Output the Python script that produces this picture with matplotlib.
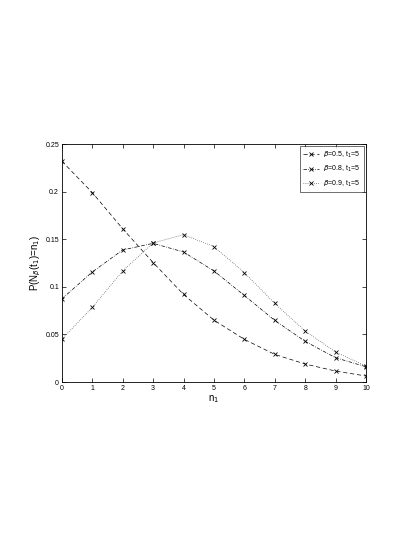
import numpy as np
import matplotlib
matplotlib.use("Agg")
import matplotlib.pyplot as plt

plt.rcParams['font.family'] = ['Liberation Sans', 'DejaVu Sans']

n1 = np.arange(0, 11)
p_b05 = [0.232, 0.199, 0.161, 0.1255, 0.092, 0.065, 0.0448, 0.029, 0.0189, 0.0115, 0.0063]
p_b08 = [0.0873, 0.1156, 0.1387, 0.1457, 0.1366, 0.1167, 0.0909, 0.0647, 0.0427, 0.0255, 0.016]
p_b09 = [0.045, 0.0783, 0.1167, 0.146, 0.1548, 0.1422, 0.115, 0.0825, 0.0535, 0.0314, 0.0168]
labels = [r'$\beta$=0.5, t$_1$=5', r'$\beta$=0.8, t$_1$=5', r'$\beta$=0.9, t$_1$=5']
xticks = np.arange(0, 11)
yticks = [0, 0.05, 0.1, 0.15, 0.2, 0.25]

fig = plt.figure(figsize=(4.15, 5.37), dpi=100)
ax = fig.add_axes([0.149, 0.2886, 0.733, 0.4432])

ax.plot(n1, p_b05, ls=(0, (6, 4)), c='k', lw=0.5, marker='x', ms=2.5, mew=0.6, label=labels[0])
ax.plot(n1, p_b08, ls=(0, (5, 2, 1, 2)), c='k', lw=0.5, marker='x', ms=2.5, mew=0.6, label=labels[1])
ax.plot(n1, p_b09, ls=(0, (1, 2)), c='0.2', lw=0.5, marker='x', ms=2.5, mew=0.6, mec='k', label=labels[2])

ax.set_xlim(0, 10)
ax.set_ylim(0, 0.25)
ax.set_xticks(xticks)
ax.set_yticks(yticks)
ax.set_yticklabels(['0', '0.05', '0.1', '0.15', '0.2', '0.25'])
ax.tick_params(direction='in', top=True, right=True, labelsize=5, length=3, width=0.5, pad=2)
for s in ax.spines.values():
    s.set_linewidth(0.6)

ax.set_xlabel(r'n$_1$', fontsize=7, labelpad=1)
ax.set_ylabel(r'P(N$_\beta$(t$_1$)=n$_1$)', fontsize=7, labelpad=2)

leg = ax.legend(loc='upper right', fontsize=5, frameon=True, fancybox=False, edgecolor='k',
                numpoints=1, handlelength=2.3, handletextpad=0.6, borderpad=0.5, labelspacing=0.6,
                borderaxespad=0.3)
leg.get_frame().set_linewidth(0.5)

fig.savefig('out.png', dpi=100)
